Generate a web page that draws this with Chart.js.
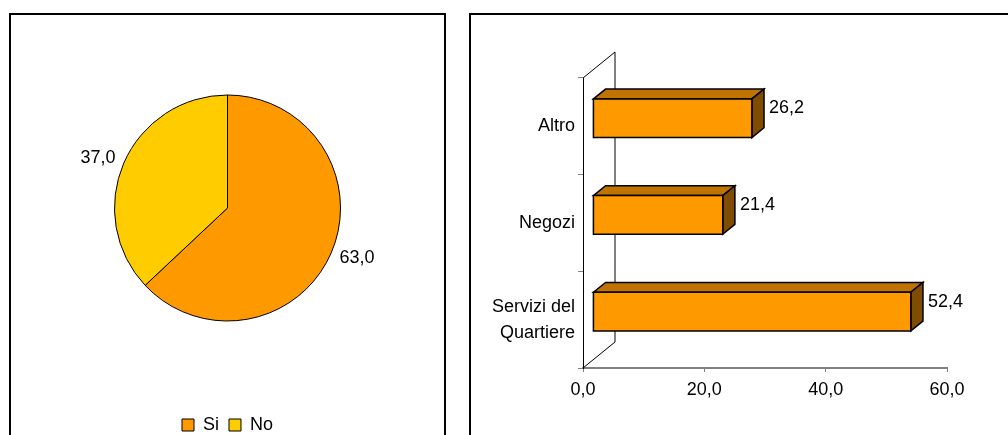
<!DOCTYPE html>
<html><head><meta charset="utf-8">
<script src="https://cdn.jsdelivr.net/npm/chart.js@4/dist/chart.umd.min.js"></script>
<style>
html,body{margin:0;padding:0;background:#fff;overflow:hidden;width:1008px;height:435px;}
.panel{position:absolute;border:2px solid #000;box-sizing:border-box;overflow:hidden;background:#fff}
#p1{left:9px;top:13px;width:437px;height:480px}
#p2{left:469px;top:13px;width:560px;height:480px}
canvas{position:absolute;left:0;top:0}
#c1{top:-5px}
</style></head><body>
<div class="panel" id="p1"><canvas id="c1" width="433" height="434" style="width:433px;height:434px"></canvas></div>
<div class="panel" id="p2"><canvas id="c2" width="540" height="440" style="width:540px;height:440px"></canvas></div>
<script>
// ---- data ----
const pieLabels = ['Si', 'No'];
const pieValues = [63.0, 37.0];
const pieColors = ['#FF9900', '#FFCC00'];

const barCategories = [['Servizi del', 'Quartiere'], 'Negozi', 'Altro'];
const barValues = [52.4, 21.4, 26.2];
const xTicks = [0, 20, 40, 60];

const FONT = 'Liberation Sans, Arial, sans-serif';
const fmt = v => v.toFixed(1).replace('.', ',');
Chart.defaults.font.family = FONT;
Chart.defaults.color = '#000';

// ---- pie ----
const pieLabelPlugin = {
  id: 'pieLabelPlugin',
  afterDatasetsDraw(chart) {
    const ctx = chart.ctx;
    const meta = chart.getDatasetMeta(0);
    ctx.save();
    ctx.font = '18px ' + FONT;
    ctx.fillStyle = '#000';
    ctx.textBaseline = 'middle';
    meta.data.forEach((arc, i) => {
      const mid = (arc.startAngle + arc.endAngle) / 2;
      const r = arc.outerRadius;
      const x = arc.x + Math.cos(mid) * (r + 9);
      const y = arc.y + Math.sin(mid) * (r + 14);
      ctx.textAlign = Math.cos(mid) >= 0 ? 'left' : 'right';
      ctx.fillText(fmt(pieValues[i]), x, y);
    });
    ctx.restore();
  }
};

new Chart(document.getElementById('c1'), {
  type: 'pie',
  data: {
    labels: pieLabels,
    datasets: [{
      data: pieValues,
      backgroundColor: pieColors,
      borderColor: '#000',
      borderWidth: 1,
      radius: 113
    }]
  },
  options: {
    responsive: false,
    animation: false,
    events: [],
    layout: { padding: { top: 0, bottom: 0 } },
    plugins: {
      legend: {
        position: 'bottom',
        labels: { boxWidth: 12, boxHeight: 12, padding: 10, color: '#000', font: { size: 18, family: FONT } }
      },
      tooltip: { enabled: false }
    }
  },
  plugins: [pieLabelPlugin]
});

// ---- 3D bar ----
const WALL_DX = 32, WALL_DY = -26, F_FRONT = 0.31, F_BACK = 0.69;
const bar3d = {
  id: 'bar3d',
  beforeDatasetsDraw(chart) {
    const ctx = chart.ctx;
    const a = chart.chartArea;
    const x0 = chart.scales.x.getPixelForValue(0);
    ctx.save();
    ctx.strokeStyle = '#000';
    ctx.lineWidth = 1;
    ctx.beginPath();
    ctx.moveTo(x0, a.top); ctx.lineTo(x0 + WALL_DX, a.top + WALL_DY);
    ctx.lineTo(x0 + WALL_DX, a.bottom + WALL_DY); ctx.lineTo(x0, a.bottom);
    ctx.stroke();
    ctx.restore();
  },
  afterDatasetsDraw(chart) {
    const ctx = chart.ctx;
    const meta = chart.getDatasetMeta(0);
    const fdx = F_FRONT * WALL_DX, fdy = F_FRONT * WALL_DY;
    const ddx = (F_BACK - F_FRONT) * WALL_DX, ddy = (F_BACK - F_FRONT) * WALL_DY;
    ctx.save();
    ctx.lineWidth = 1.5;
    ctx.strokeStyle = '#000';
    ctx.lineJoin = 'miter';
    meta.data.forEach((el, i) => {
      const h = el.height;
      const x0 = el.base + fdx, x1 = el.x + fdx;
      const y0 = el.y - h / 2 + fdy, y1 = el.y + h / 2 + fdy;
      // top face
      ctx.beginPath();
      ctx.moveTo(x0, y0); ctx.lineTo(x0 + ddx, y0 + ddy); ctx.lineTo(x1 + ddx, y0 + ddy); ctx.lineTo(x1, y0); ctx.closePath();
      ctx.fillStyle = '#BF7300'; ctx.fill(); ctx.stroke();
      // side face
      ctx.beginPath();
      ctx.moveTo(x1, y0); ctx.lineTo(x1 + ddx, y0 + ddy); ctx.lineTo(x1 + ddx, y1 + ddy); ctx.lineTo(x1, y1); ctx.closePath();
      ctx.fillStyle = '#804C00'; ctx.fill(); ctx.stroke();
      // front face
      ctx.beginPath();
      ctx.rect(x0, y0, x1 - x0, y1 - y0);
      ctx.fillStyle = '#FF9900'; ctx.fill(); ctx.stroke();
      // value label
      ctx.fillStyle = '#000';
      ctx.font = '18px ' + FONT;
      ctx.textAlign = 'left';
      ctx.textBaseline = 'middle';
      ctx.fillText(fmt(barValues[i]), x1 + ddx + 5, (y0 + y1) / 2 + ddy);
    });
    ctx.restore();
  }
};

new Chart(document.getElementById('c2'), {
  type: 'bar',
  data: {
    labels: barCategories,
    datasets: [{
      data: barValues,
      backgroundColor: 'rgba(0,0,0,0)',
      borderWidth: 0,
      categoryPercentage: 1,
      barPercentage: 0.4
    }]
  },
  options: {
    indexAxis: 'y',
    responsive: false,
    animation: false,
    events: [],
    layout: { padding: { top: 63, left: 0, right: 64, bottom: 42 } },
    plugins: { legend: { display: false }, tooltip: { enabled: false } },
    scales: {
      x: {
        min: xTicks[0], max: xTicks[xTicks.length - 1],
        afterBuildTicks: s => { s.ticks = xTicks.map(v => ({ value: v })); },
        afterFit: s => { s.height = 45; },
        ticks: { callback: v => fmt(v), color: '#000', font: { size: 18, family: FONT }, padding: 7, maxRotation: 0 },
        grid: { drawOnChartArea: false, drawTicks: true, tickLength: 4, color: '#808080', lineWidth: 1 },
        border: { color: '#808080', width: 2 }
      },
      y: {
        reverse: true,
        afterFit: s => { s.width = 112; },
        ticks: { color: '#000', font: { size: 18, family: FONT, lineHeight: 1.45 }, padding: 3 },
        grid: { drawOnChartArea: false, drawTicks: true, tickLength: 5, color: '#808080', offset: true },
        border: { color: '#000', width: 1 }
      }
    }
  },
  plugins: [bar3d]
});
</script>
</body></html>
